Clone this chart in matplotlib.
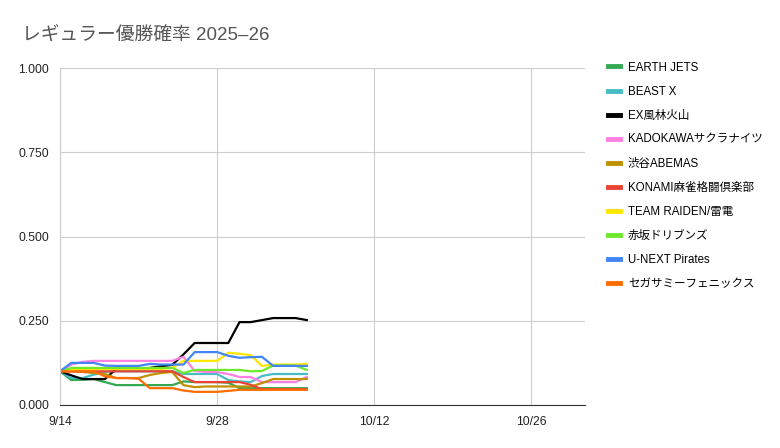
import datetime as dt
import matplotlib
matplotlib.use("Agg")
import matplotlib.pyplot as plt
import matplotlib.dates as mdates

plt.rcParams['font.family'] = ['Liberation Sans', 'Noto Sans CJK JP', 'DejaVu Sans']

# daily values 9/14 .. 10/6
start = dt.date(2025, 9, 14)
days = [start + dt.timedelta(days=i) for i in range(23)]

teams = ["EARTH JETS", "BEAST X", "EX風林火山", "KADOKAWAサクラナイツ", "渋谷ABEMAS",
         "KONAMI麻雀格闘倶楽部", "TEAM RAIDEN/雷電", "赤坂ドリブンズ", "U-NEXT Pirates",
         "セガサミーフェニックス"]
colors = ["#34a853", "#46bdc6", "#000000", "#ff80e0", "#bf9000",
          "#ea4335", "#ffe600", "#6ee82a", "#4285f4", "#ff6d01"]

earth = [.100, .074, .075, .077, .068, .059, .059, .059, .059, .059, .059, .070,
         .068, .068, .068, .066, .050, .050, .050, .050, .050, .050, .050]
beast = [.100, .080, .080, .090, .098, .100, .100, .100, .100, .100, .100, .092,
         .092, .092, .092, .074, .070, .068, .086, .092, .092, .092, .092]
furin = [.100, .088, .077, .077, .077, .107, .107, .107, .110, .115, .119, .150,
         .184, .184, .184, .184, .246, .246, .252, .258, .258, .258, .252]
kado = [.100, .120, .128, .131, .131, .131, .131, .131, .131, .131, .131, .143,
        .101, .098, .098, .092, .083, .083, .068, .068, .068, .068, .083]
abemas = [.100, .100, .098, .095, .092, .080, .080, .080, .089, .095, .098, .059,
          .053, .055, .055, .055, .055, .055, .065, .077, .077, .077, .077]
konami = [.100, .100, .100, .100, .100, .100, .100, .100, .100, .100, .100, .083,
          .068, .068, .068, .068, .068, .060, .047, .047, .047, .047, .047]
raiden = [.100, .104, .107, .107, .107, .107, .107, .107, .107, .107, .110, .131,
          .131, .131, .131, .155, .152, .148, .116, .120, .120, .120, .122]
akasaka = [.100, .110, .110, .110, .110, .110, .110, .110, .110, .110, .110, .095,
           .104, .104, .104, .104, .104, .100, .101, .117, .117, .117, .104]
unext = [.100, .125, .125, .125, .117, .116, .116, .116, .122, .120, .120, .120,
         .157, .157, .157, .146, .140, .142, .143, .116, .116, .116, .116]
sega = [.100, .100, .100, .100, .085, .080, .080, .078, .050, .050, .050, .043,
        .039, .039, .039, .042, .045, .045, .045, .045, .045, .045, .045]

series = [earth, beast, furin, kado, abemas, konami, raiden, akasaka, unext, sega]

fig = plt.figure(figsize=(7.8, 4.48), dpi=100)
ax = fig.add_axes([0.077, 0.096, 0.673, 0.752])

for name, col, vals in zip(teams, colors, series):
    ax.plot(days, vals, color=col, lw=1.6, label=name, solid_joinstyle='round')

ax.set_ylim(0, 1.0)
ax.set_xlim(mdates.date2num(start), mdates.date2num(start) + 46.8)
ax.set_yticks([0, 0.25, 0.5, 0.75, 1.0])
ax.set_yticklabels(["0.000", "0.250", "0.500", "0.750", "1.000"])
xt = [start + dt.timedelta(days=14 * i) for i in range(4)]
ax.set_xticks(xt)
ax.set_xticklabels([f"{d.month}/{d.day}" for d in xt])
ax.grid(True, color="#cccccc", lw=0.8)
ax.set_axisbelow(True)
for s in ["top", "right"]:
    ax.spines[s].set_visible(False)
ax.spines["left"].set_color("#cccccc")
ax.spines["bottom"].set_color("#333333")
ax.tick_params(length=0, labelsize=8.7, colors="#222222", pad=8)

fig.text(0.028, 0.92, "レギュラー優勝確率 2025–26", fontsize=13.5, color="#555555",
         va="center", ha="left")

fig.legend(loc="upper left", bbox_to_anchor=(0.774, 0.873), frameon=False,
           fontsize=8.3, handlelength=1.0, handleheight=0.7, handletextpad=0.7,
           labelspacing=1.05, borderaxespad=0)
for h in fig.legends[0].legend_handles:
    h.set_linewidth(3.5)

fig.savefig("out.png", dpi=100)
